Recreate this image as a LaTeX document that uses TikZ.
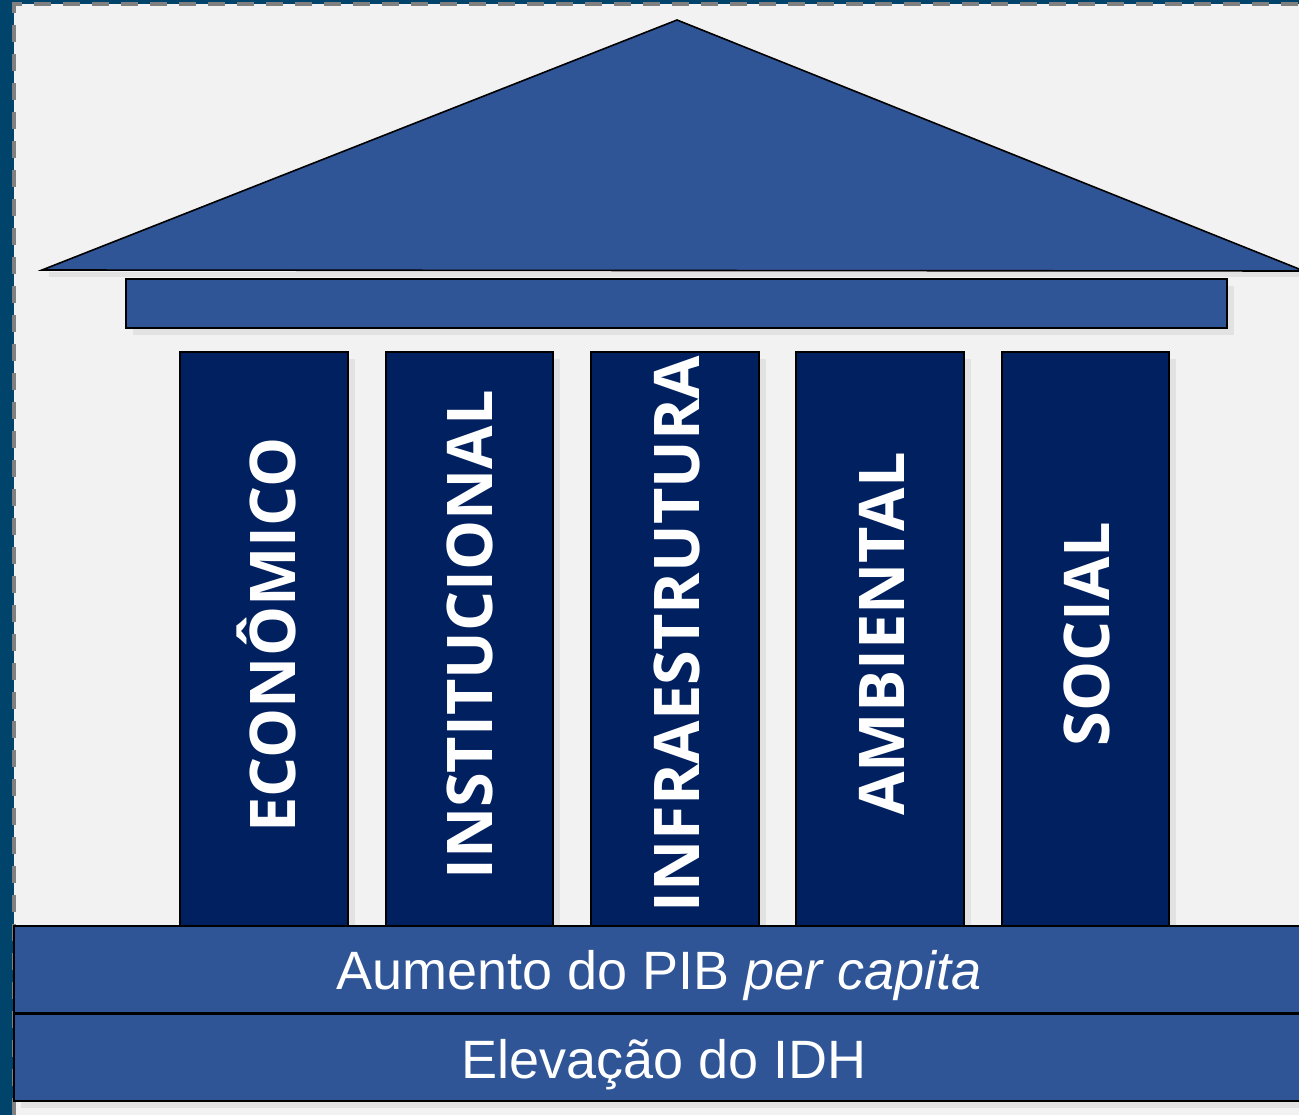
\documentclass[tikz,border=0pt]{standalone}
\usepackage{fontspec}
\setmainfont{Liberation Sans}
\newfontfamily\pillarfont{Open Sans}
\definecolor{bgdark}{RGB}{0,68,108}
\definecolor{bglight}{RGB}{242,242,242}
\definecolor{roofblue}{RGB}{47,85,151}
\definecolor{pillarnavy}{RGB}{0,32,96}
\definecolor{shadowgray}{RGB}{226,226,226}
\definecolor{dashgray}{RGB}{128,128,128}
\tikzset{
  roofpart/.style={fill=roofblue, draw=black, line width=1.6pt},
  pillarbox/.style={fill=pillarnavy, draw=black, line width=2pt, inner sep=0pt},
  pillartext/.style={rotate=90, text=white, font=\pillarfont\bfseries\fontsize{63}{70}\selectfont, inner sep=0pt},
  bandbox/.style={fill=roofblue, draw=black, line width=2pt, inner sep=0pt,
    minimum width=1292pt, minimum height=87pt},
  bandtext/.style={text=white, font=\fontsize{54}{60}\selectfont, inner sep=0pt},
}
\begin{document}
\begin{tikzpicture}[x=1pt,y=-1pt]
\useasboundingbox (0,0) rectangle (1299,1115);
% backgrounds
\fill[bgdark] (0,0) rectangle (1299,1115);
\fill[bglight] (14,4) rectangle (1299,1115);
\draw[dashgray, line width=4pt, dash pattern=on 17pt off 12pt] (14,1115) -- (14,4) -- (1299,4);
% shadows
\fill[shadowgray] (49,277) -- (1306,277) -- (1306,272) -- (49,272) -- cycle;
\fill[shadowgray] (133,286) rectangle (1234,335);
\foreach \xl/\xr in {180/348, 386/553, 591/759, 796/964, 1002/1169}{
  \fill[shadowgray] (\xl+7,359) rectangle (\xr+7,926);
}
\fill[shadowgray] (21,1101) rectangle (1306,1108);
% roof
\draw[roofpart] (42,270) -- (677,20) -- (1304,271) -- cycle;
\node[roofpart, inner sep=0pt, minimum width=1101pt, minimum height=49pt] (cornice) at (676.5,303.5) {};
% pillars
\node[pillarbox, minimum width=168pt, minimum height=574pt] (p1) at (264,639) {};
\node[pillarbox, minimum width=167pt, minimum height=574pt] (p2) at (469.5,639) {};
\node[pillarbox, minimum width=168pt, minimum height=574pt] (p3) at (675,639) {};
\node[pillarbox, minimum width=168pt, minimum height=574pt] (p4) at (880,639) {};
\node[pillarbox, minimum width=167pt, minimum height=574pt] (p5) at (1085.5,639) {};
\node[pillartext] (t1) at (266,635) {ECONÔMICO};
\node[pillartext] (t2) at (470,635) {INSTITUCIONAL};
\node[pillartext] (t3) at (677,634) {INFRAESTRUTURA};
\node[pillartext] (t4) at (882,634) {AMBIENTAL};
\node[pillartext] (t5) at (1087,634) {SOCIAL};
% bands
\node[bandbox] (b1) at (660,969.5) {};
\node[bandbox] (b2) at (660,1057) {};
\node[bandtext] (a1) at (659,976) {Aumento do PIB \textit{per capita}};
\node[bandtext] (a2) at (664,1065) {Elevação do IDH};
\end{tikzpicture}
\end{document}
